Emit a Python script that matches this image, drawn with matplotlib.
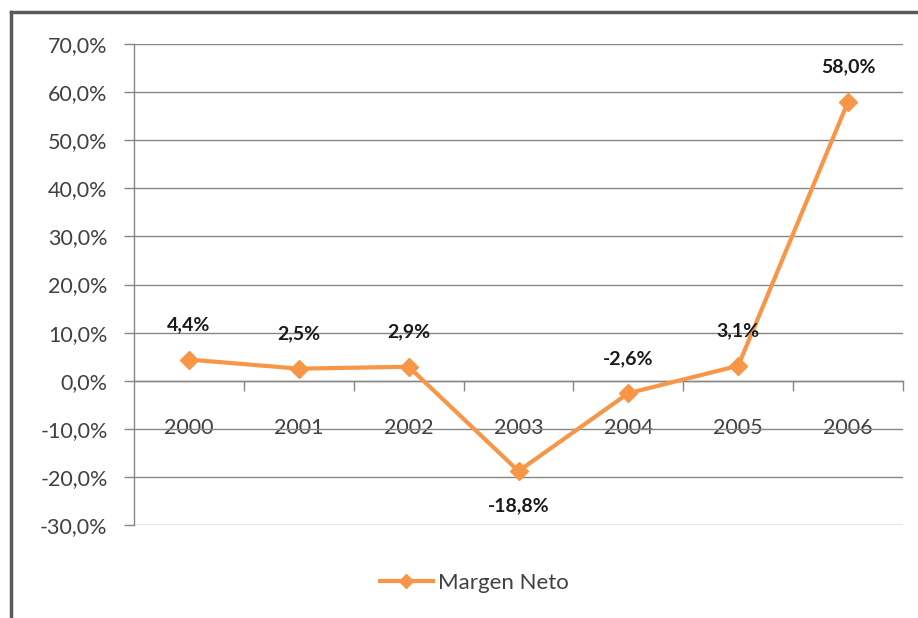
import matplotlib
matplotlib.use("Agg")
import matplotlib.pyplot as plt
from matplotlib.lines import Line2D
from matplotlib.ticker import FixedLocator, NullFormatter

plt.rcParams['font.family'] = ['Lato', 'DejaVu Sans']

years = ["2000", "2001", "2002", "2003", "2004", "2005", "2006"]
margen_neto = [4.4, 2.5, 2.9, -18.8, -2.6, 3.1, 58.0]
y_ticks = [-30, -20, -10, 0, 10, 20, 30, 40, 50, 60, 70]

W, H, DPI = 918, 618, 100
fig = plt.figure(figsize=(W / DPI, H / DPI), dpi=DPI)
fig.patch.set_facecolor("white")

# plot area in pixel coordinates
left, right, top, bottom = 134, 903, 44, 525
ax = fig.add_axes([left / W, 1 - bottom / H, (right - left) / W, (bottom - top) / H])

orange = "#F79646"
grid_c = "#868686"
text_c = "#404040"

x = list(range(len(years)))
ax.plot(x, margen_neto, color=orange, lw=3.0, marker="D", ms=9,
        markerfacecolor=orange, markeredgecolor=orange, zorder=3,
        label="Margen Neto")

ax.set_xlim(-0.5, len(years) - 0.5)
ax.set_ylim(-30, 70)
ax.set_yticks(y_ticks)
ax.set_yticklabels([f"{v:.1f}%".replace(".", ",") for v in y_ticks],
                   fontsize=15.5, color=text_c)
ax.yaxis.grid(True, color=grid_c, lw=1.0)
ax.set_axisbelow(True)
ax.tick_params(axis="y", length=7, color=grid_c, pad=12, width=1.0)

for s in ["top", "right"]:
    ax.spines[s].set_visible(False)
ax.spines["left"].set_color(grid_c)
ax.spines["left"].set_linewidth(1.0)
ax.spines["bottom"].set_position(("data", 0))
ax.spines["bottom"].set_color(grid_c)
ax.spines["bottom"].set_linewidth(1.0)

# category boundary ticks on the zero axis, labels at category centres
ax.xaxis.set_major_locator(FixedLocator([i + 0.5 for i in x]))
ax.xaxis.set_major_formatter(NullFormatter())
ax.xaxis.set_minor_locator(FixedLocator(x))
ax.set_xticklabels(years, minor=True, fontsize=15.5, color=text_c)
ax.tick_params(axis="x", which="major", length=7, color=grid_c, direction="out", width=1.0)
ax.tick_params(axis="x", which="minor", length=0, pad=27)

# value labels
for xi, v in zip(x, margen_neto):
    off = -25 if v < -10 else 25
    ax.annotate(f"{v:.1f}%".replace(".", ","), (xi, v), xytext=(0, off),
                textcoords="offset points", ha="center", va="center",
                fontsize=14, fontweight="bold", color="#1a1a1a")

leg = fig.legend(handles=[Line2D([], [], color=orange, lw=3.0, marker="D", ms=7)],
                 labels=["Margen Neto"], loc="center", bbox_to_anchor=(474 / W, 1 - 583 / H),
                 frameon=False, fontsize=16, handlelength=2.4, handletextpad=0.2)
for t in leg.get_texts():
    t.set_color(text_c)

# chart frame (top and left edges)
fig.add_artist(Line2D([11 / W, 1], [1 - 12 / H, 1 - 12 / H], transform=fig.transFigure,
                      color="#5a5a5a", lw=2.5))
fig.add_artist(Line2D([11 / W, 11 / W], [0, 1 - 12 / H], transform=fig.transFigure,
                      color="#5a5a5a", lw=2.5))

fig.savefig("out.png", dpi=DPI, facecolor="white")
